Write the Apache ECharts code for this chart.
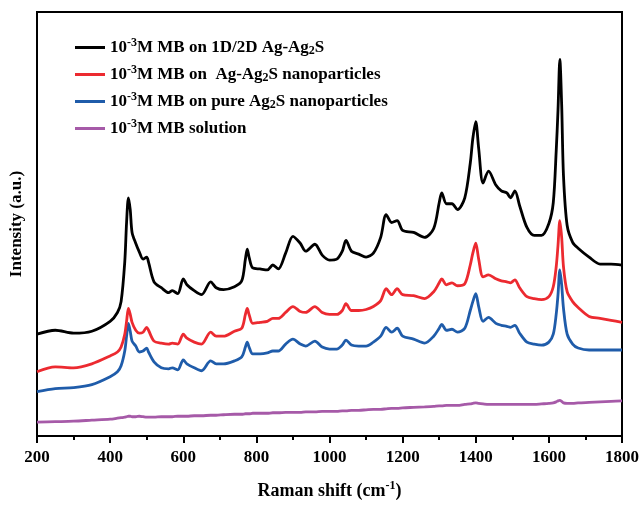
<!DOCTYPE html>
<html><head><meta charset="utf-8">
<script src="https://cdn.jsdelivr.net/npm/echarts@6/dist/echarts.min.js"></script>
<style>html,body{margin:0;padding:0;background:#fff}#c{width:644px;height:505px}</style>
</head><body><div id="c"></div>
<script>
// Raman shift (cm-1) sample positions
var shift = [200,250,300,350,400,420,430,440,445,450,
455,460,470,480,490,500,505,520,540,560,
570,585,600,610,630,650,675,690,710,740,
760,770,775,780,790,810,830,845,860,880,
900,920,935,960,980,1000,1020,1035,1045,1060,
1080,1100,1120,1140,1155,1170,1185,1200,1230,1260,
1285,1300,1307,1320,1335,1350,1370,1385,1392,1400,
1408,1420,1435,1455,1470,1485,1495,1507,1520,1540,
1560,1580,1600,1612,1620,1625,1630,1635,1640,1650,
1665,1680,1710,1740,1770,1800];

var black1D2D = [103,107,104,106,116,125,136,176,216,241,
229,206,195,186,179,181,176,156,150,145,
147,144,159,153,147,143,156,150,148,151,
157,179,189,181,170,169,168,173,169,185,
202,195,187,194,183,178,179,187,198,187,
184,181,185,201,224,216,218,208,206,201,
210,236,246,235,235,229,241,276,301,318,
291,256,268,254,248,246,241,248,233,211,
203,203,215,236,288,330,381,335,263,213,
196,190,181,174,174,173];

var redNP = [65,70,69,73,81,85,90,103,116,129,
123,115,107,104,105,110,107,96,94,93,
94,93,103,99,95,93,105,101,101,106,
109,123,129,123,114,115,116,119,119,125,
131,126,125,131,125,123,123,127,134,127,
127,128,131,137,149,143,149,143,142,139,
146,155,159,153,155,152,154,173,185,195,
179,161,163,159,157,156,155,158,150,141,
139,138,141,151,171,193,218,201,171,146,
136,130,121,119,117,115];

var blueAg2S = [45,48,49,52,60,65,71,86,101,114,
106,96,91,85,86,89,85,75,69,68,
69,67,77,73,69,66,76,73,73,76,
80,90,95,90,83,83,84,86,86,93,
98,93,91,96,90,88,88,92,97,92,
91,91,95,101,110,105,109,101,98,94,
101,109,113,107,108,105,109,127,136,144,
131,116,120,114,112,111,110,112,104,95,
93,92,95,103,123,143,168,153,129,103,
93,89,87,87,87,87];

var purpleSol = [14,14.5,15,16,17,18,18.5,19,19.5,20,
20,19.5,19.5,20,19.5,19,19,19,19.5,19.5,
19.5,20,20,20,20.5,20.5,21,21,21.5,22,
22,22.5,22.5,22.5,23,23,23,23.5,23.5,24,
24,24,24.5,24.5,25,25,25,25.5,25.5,26,
26,26.5,27,27,27.5,28,28,28.5,29,29.5,
30,30.5,30.5,31,31,31,32,32.5,33,33.5,
33,32.5,32,32,32,32,32,32,32,32,
32,32.5,33,33.5,34.5,35.5,36,35,33.5,33,
33,33.5,34,34.5,35,35.5];

var seriesNames = ['10-3M MB on 1D/2D Ag-Ag2S','10-3M MB on  Ag-Ag2S nanoparticles','10-3M MB on pure Ag2S nanoparticles','10-3M MB solution'];
var legendRich = ['10{sup|-3}M MB on 1D/2D Ag-Ag{sub|2}S','10{sup|-3}M MB on  Ag-Ag{sub|2}S nanoparticles','10{sup|-3}M MB on pure Ag{sub|2}S nanoparticles','10{sup|-3}M MB solution'];
var colors = ['#000000','#ec2a30','#1f5caa','#a65aa8'];
var xTicks = [200,400,600,800,1000,1200,1400,1600,1800];

function pairs(v){ return shift.map(function(x,i){ return [x, v[i]]; }); }
var allVals = [black1D2D, redNP, blueAg2S, purpleSol];

var FONT = 'Liberation Serif';
var chart = echarts.init(document.getElementById('c'), null, {renderer:'canvas'});
chart.setOption({
  animation:false,
  backgroundColor:'#fff',
  grid:{left:37,right:22,top:12,bottom:64,show:true,borderColor:'#000',borderWidth:2,containLabel:false},
  legend:{
    orient:'vertical', left:70, top:32, itemGap:7, itemWidth:30, itemHeight:3, icon:'rect',
    data:seriesNames,
    formatter:function(n){ return legendRich[seriesNames.indexOf(n)]; },
    textStyle:{fontFamily:FONT,fontWeight:'bold',fontSize:17,color:'#000',
      rich:{
        sup:{fontFamily:FONT,fontWeight:'bold',fontSize:12,color:'#000',padding:[0,0,9,0]},
        sub:{fontFamily:FONT,fontWeight:'bold',fontSize:12,color:'#000',padding:[7,0,0,0]}
      }}
  },
  xAxis:{
    type:'value', min:200, max:1800, interval:200,
    name:'Raman shift (cm{sup|-1})', nameLocation:'middle', nameGap:44,
    nameTextStyle:{fontFamily:FONT,fontWeight:'bold',fontSize:18,color:'#000',
      rich:{sup:{fontFamily:FONT,fontWeight:'bold',fontSize:12,color:'#000',padding:[0,0,10,0]}}},
    axisLine:{show:true,lineStyle:{color:'#000',width:2}},
    axisTick:{show:true,inside:false,length:7,lineStyle:{color:'#000',width:2}},
    minorTick:{show:true,splitNumber:2,length:4,lineStyle:{color:'#000',width:2}},
    splitLine:{show:false},
    axisLabel:{fontFamily:FONT,fontWeight:'bold',fontSize:17,color:'#000',margin:13,
      formatter:function(v){ return xTicks.indexOf(v)>=0 ? String(v) : ''; }}
  },
  yAxis:{
    type:'value', min:0, max:429,
    name:'Intensity (a.u.)', nameLocation:'middle', nameGap:12, nameRotate:90,
    nameTextStyle:{fontFamily:FONT,fontWeight:'bold',fontSize:17,color:'#000'},
    axisLine:{show:true,lineStyle:{color:'#000',width:2}},
    axisTick:{show:false}, axisLabel:{show:false}, splitLine:{show:false}
  },
  series: allVals.map(function(v,i){
    return {name:seriesNames[i], type:'line', data:pairs(v), symbol:'none', smooth:0.3,
      lineStyle:{color:colors[i], width:2.8}, itemStyle:{color:colors[i]}, z:10-i};
  })
});
</script></body></html>
